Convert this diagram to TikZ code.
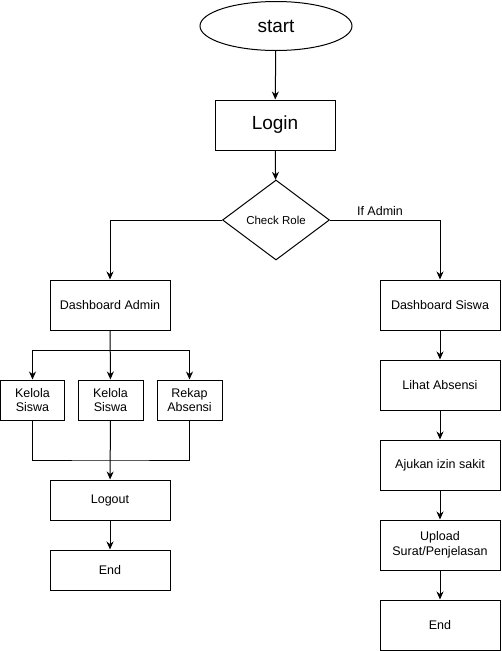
\documentclass[tikz,border=0pt]{standalone}
\usepackage{fontspec}
\setmainfont{Liberation Sans}
\usepackage{tikz}
\usetikzlibrary{arrows.meta}
\usetikzlibrary{shapes.geometric}

\begin{document}
\begin{tikzpicture}[
        x=1pt,
        y=-1pt,
        line width=1pt,
        block/.style={
            rectangle,
            draw,
            fill=white,
            text centered,
            align=center,
            inner sep=0pt,
            minimum width=120pt,
            minimum height=50pt,
            font=\fontsize{12.5}{14.5}\selectfont
        },
        small/.style={
            block,
            minimum width=65pt,
            minimum height=40pt
        },
        line/.style={
            draw,
            -{Stealth[length=8pt,width=7pt]}
        },
        ]
        \useasboundingbox (0,0) rectangle (502,651);

        \node [ellipse,draw,inner sep=0pt,minimum width=152pt,minimum height=49pt,font=\fontsize{19}{21}\selectfont] (start) at (276,26) {start};
        \node [block,font=\fontsize{19}{21}\selectfont] (login) at (275,125) {Login};
        \node [diamond,draw,inner sep=0pt,minimum width=107pt,minimum height=80pt,font=\fontsize{11.5}{13}\selectfont] (check-role) at (276,220) {Check Role};

        \node [block] (dashboard-admin) at (110,305) {Dashboard Admin};
        \node [small,minimum width=64pt] (kelola-siswa-a) at (32.5,400) {Kelola\\Siswa};
        \node [small] (kelola-siswa-b) at (110.5,400) {Kelola\\Siswa};
        \node [small] (rekap-absensi) at (189.5,400) {Rekap\\Absensi};
        \node [block,minimum height=40pt] (logout) at (110,500) {Logout};
        \node [block,minimum height=40pt] (end-admin) at (110,570) {End};
        \coordinate (split) at (110,350);
        \coordinate (join) at (110,460);

        \node [block] (dashboard-siswa) at (440,305) {Dashboard Siswa};
        \node [block] (lihat-absensi) at (440,385) {Lihat Absensi};
        \node [block] (ajukan-izin) at (440,465) {Ajukan izin sakit};
        \node [block] (upload-surat) at (440,545) {Upload\\Surat/Penjelasan};
        \node [block] (end-siswa) at (440,625) {End};

        \node [font=\fontsize{12.5}{14.5}\selectfont] (if-admin) at (380,211) {If Admin};

        \path [line] (start) -- (login);
        \path [line] (login) -- (check-role);
        \path [line] (check-role.west) -| (dashboard-admin.north);
        \path [line] (check-role.east) -| (dashboard-siswa.north);

        \path [line] (dashboard-admin) -- (kelola-siswa-b);
        \path [line] (split) -| (kelola-siswa-a.north);
        \path [line] (split) -| (rekap-absensi.north);
        \path [draw] (kelola-siswa-a.south) |- (join) -| (rekap-absensi.south);
        \path [line] (kelola-siswa-b) -- (logout);
        \path [line] (logout) -- (end-admin);

        \path [line] (dashboard-siswa) -- (lihat-absensi);
        \path [line] (lihat-absensi) -- (ajukan-izin);
        \path [line] (ajukan-izin) -- (upload-surat);
        \path [line] (upload-surat) -- (end-siswa);
    \end{tikzpicture}
\end{document}
